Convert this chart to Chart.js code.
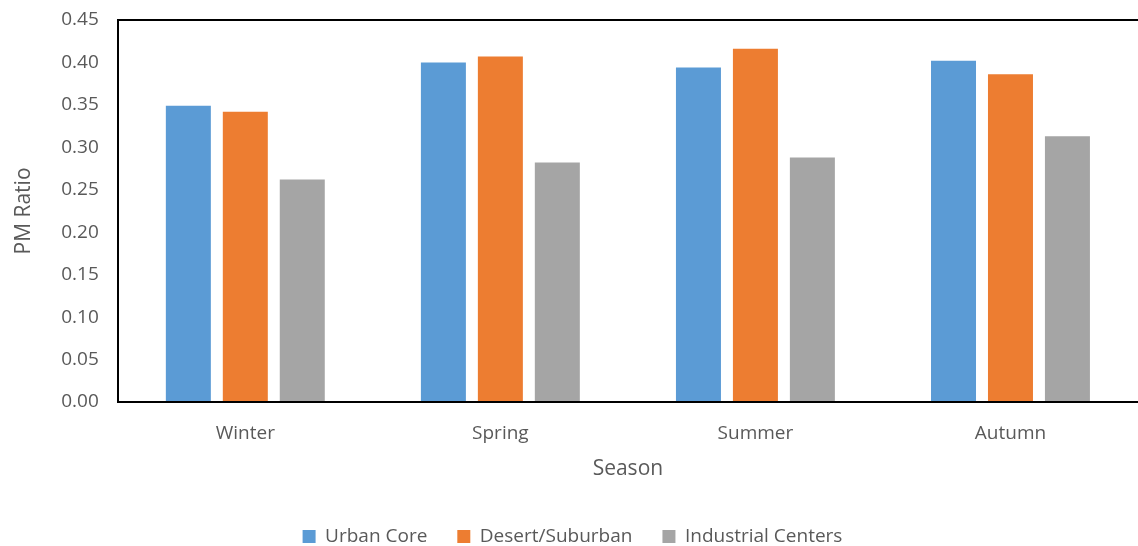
<!DOCTYPE html>
<html>
<head>
  <meta charset="utf-8">
  <title>PM Ratio by Season</title>
  <script src="https://cdn.jsdelivr.net/npm/chart.js@4.4.0/dist/chart.umd.min.js"></script>
  <style>
    html, body { margin: 0; padding: 0; background: #fff; }
    #wrap { width: 1138px; height: 546px; }
  </style>
</head>
<body>
  <div id="wrap"><canvas id="myChart" width="1138" height="546"></canvas></div>
  <script type="text/javascript">
    var seasons = ["Winter", "Spring", "Summer", "Autumn"];
    var urbanCore = [0.349, 0.400, 0.394, 0.402];
    var desertSuburban = [0.342, 0.407, 0.416, 0.386];
    var industrialCenters = [0.262, 0.282, 0.288, 0.313];
    var seriesNames = ["Urban Core", "Desert/Suburban", "Industrial Centers"];
    var COLORS = ["#5B9BD5", "#ED7D31", "#A5A5A5"];

    var TEXT = "#595959";
    var FONT = "'Open Sans', 'Liberation Sans', sans-serif";
    var Y_MAX = 0.45;

    var datasets = [urbanCore, desertSuburban, industrialCenters].map(function(vals, i) {
      return {
        label: seriesNames[i],
        data: vals,
        backgroundColor: COLORS[i],
        borderWidth: 0,
        categoryPercentage: 0.67,
        barPercentage: 0.79
      };
    });

    var ctx = document.getElementById("myChart");
    var myBarChart = new Chart(ctx, {
      type: 'bar',
      data: { labels: seasons, datasets: datasets },
      options: {
        responsive: false,
        animation: false,
        layout: { padding: { top: 0, right: 0, left: 7, bottom: -10 } },
        plugins: {
          tooltip: { enabled: false },
          legend: {
            position: 'bottom',
            labels: {
              boxWidth: 13, boxHeight: 13, padding: 30,
              color: TEXT,
              font: { family: FONT, size: 19 }
            }
          }
        },
        scales: {
          x: {
            grid: { display: false, drawTicks: false },
            border: { color: '#000', width: 2 },
            ticks: { color: TEXT, font: { family: FONT, size: 19 }, padding: 20 },
            title: { display: true, text: 'Season', color: TEXT, font: { family: FONT, size: 21 }, padding: { top: -8, bottom: 15 } }
          },
          y: {
            min: 0, max: Y_MAX,
            // only the top gridline is shown, as the frame's upper edge
            grid: {
              drawTicks: false,
              lineWidth: 2,
              color: function(c) { return c.tick && Math.abs(c.tick.value - Y_MAX) < 1e-9 ? '#000' : 'rgba(0,0,0,0)'; }
            },
            border: { color: '#000', width: 2 },
            ticks: {
              stepSize: 0.05, color: TEXT, padding: 19,
              // small lineHeight keeps the top label from reserving extra room above the frame
              font: { family: FONT, size: 19, lineHeight: 0.1 },
              callback: function(v) { return v.toFixed(2); }
            },
            title: { display: true, text: 'PM Ratio', color: TEXT, font: { family: FONT, size: 21 }, padding: { bottom: 6 } }
          }
        }
      }
    });
  </script>
</body>
</html>
